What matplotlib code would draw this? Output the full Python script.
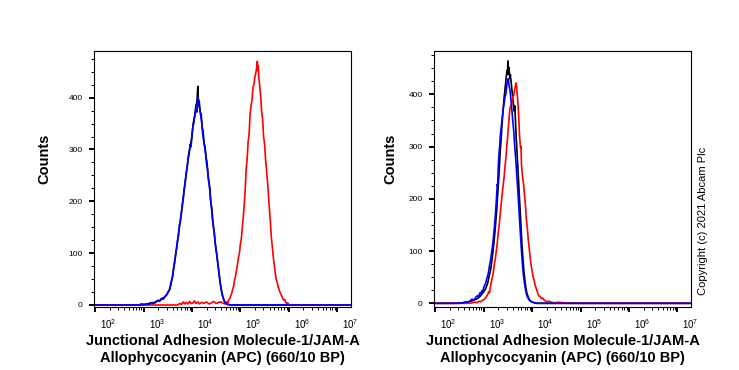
import numpy as np
import matplotlib
matplotlib.use("Agg")
import matplotlib.pyplot as plt
from matplotlib.ticker import FixedLocator, NullFormatter

plt.rcParams['font.family'] = ['Liberation Sans', 'DejaVu Sans']
plt.rcParams['mathtext.fontset'] = 'custom'
plt.rcParams['mathtext.rm'] = 'Liberation Sans'
plt.rcParams['mathtext.it'] = 'Liberation Sans:italic'
plt.rcParams['mathtext.bf'] = 'Liberation Sans:bold'

# ---------------- data: (log10 fluorescence, counts) ----------------
decades = [2, 3, 4, 5, 6, 7]
xtick_labels = [r'$\mathregular{10^{%d}}$' % d for d in decades]
ytick_values = [0, 100, 200, 300, 400]
ytick_labels = ['0', '100', '200', '300', '400']

left_blue = [(2.90, 0), (2.95, 1), (3.00, 0), (3.05, 2), (3.10, 1), (3.15, 3), (3.20, 5), (3.24, 4),
             (3.28, 8), (3.32, 7), (3.36, 12), (3.40, 11), (3.44, 16), (3.48, 20), (3.51, 26),
             (3.54, 31), (3.56, 42), (3.58, 47), (3.60, 58), (3.62, 72), (3.64, 80), (3.66, 98),
             (3.68, 108), (3.70, 125), (3.72, 133), (3.74, 155), (3.76, 160), (3.78, 180),
             (3.80, 190), (3.82, 210), (3.84, 222), (3.86, 240), (3.88, 252), (3.90, 268),
             (3.92, 282), (3.94, 290), (3.96, 310), (3.98, 305), (4.00, 330), (4.02, 345),
             (4.04, 352), (4.06, 370), (4.08, 378), (4.10, 372), (4.12, 400), (4.14, 385),
             (4.16, 378), (4.18, 365), (4.20, 352), (4.22, 330), (4.24, 318), (4.26, 305),
             (4.28, 292), (4.30, 272), (4.32, 262), (4.34, 240), (4.36, 230), (4.38, 205),
             (4.40, 190), (4.42, 168), (4.44, 150), (4.46, 140), (4.48, 118), (4.50, 105),
             (4.52, 92), (4.54, 75), (4.56, 60), (4.58, 44), (4.60, 32), (4.62, 22), (4.64, 15),
             (4.66, 9), (4.68, 5), (4.70, 3), (4.74, 1), (4.80, 0)]

left_black = [(2.90, 0), (2.96, 2), (3.02, 1), (3.08, 2), (3.14, 4), (3.20, 3), (3.26, 7), (3.30, 9),
              (3.34, 8), (3.38, 13), (3.42, 14), (3.46, 18), (3.50, 24), (3.53, 28), (3.56, 38),
              (3.58, 48), (3.60, 55), (3.62, 70), (3.64, 84), (3.66, 95), (3.68, 110), (3.70, 122),
              (3.72, 138), (3.74, 150), (3.76, 165), (3.78, 176), (3.80, 195), (3.82, 205),
              (3.84, 225), (3.86, 236), (3.88, 255), (3.90, 265), (3.92, 285), (3.94, 295),
              (3.96, 305), (3.98, 315), (4.00, 325), (4.02, 348), (4.04, 358), (4.06, 365),
              (4.08, 385), (4.10, 390), (4.11, 405), (4.12, 422), (4.13, 398), (4.15, 392),
              (4.17, 372), (4.19, 368), (4.21, 342), (4.23, 335), (4.25, 312), (4.27, 305),
              (4.29, 285), (4.31, 275), (4.33, 252), (4.35, 238), (4.37, 222), (4.39, 198),
              (4.41, 185), (4.43, 162), (4.45, 148), (4.47, 128), (4.49, 112), (4.51, 98),
              (4.53, 82), (4.55, 68), (4.57, 52), (4.59, 38), (4.61, 28), (4.63, 18), (4.65, 12),
              (4.67, 7), (4.70, 3), (4.74, 1), (4.80, 0)]

left_red = [(3.70, 0), (3.75, 3), (3.78, 1), (3.82, 6), (3.85, 2), (3.88, 5), (3.92, 2), (3.95, 7),
            (3.98, 3), (4.02, 4), (4.05, 8), (4.08, 3), (4.12, 6), (4.15, 2), (4.20, 5), (4.25, 3),
            (4.30, 6), (4.35, 2), (4.40, 4), (4.45, 7), (4.50, 3), (4.55, 5), (4.60, 6), (4.65, 3),
            (4.68, 2), (4.72, 6), (4.74, 4), (4.76, 10), (4.78, 12), (4.80, 18), (4.82, 22),
            (4.84, 30), (4.86, 36), (4.88, 48), (4.90, 56), (4.92, 68), (4.94, 78), (4.96, 92),
            (4.98, 100), (5.00, 118), (5.02, 128), (5.04, 150), (5.06, 170), (5.08, 195),
            (5.10, 225), (5.12, 262), (5.14, 282), (5.16, 315), (5.18, 330), (5.20, 368),
            (5.22, 385), (5.24, 395), (5.26, 420), (5.28, 425), (5.30, 440), (5.32, 448),
            (5.34, 460), (5.35, 470), (5.36, 452), (5.37, 462), (5.38, 440), (5.40, 422),
            (5.42, 402), (5.44, 372), (5.46, 358), (5.48, 325), (5.50, 310), (5.52, 280),
            (5.54, 262), (5.56, 238), (5.58, 212), (5.60, 185), (5.62, 160), (5.64, 130),
            (5.66, 112), (5.68, 92), (5.70, 78), (5.72, 62), (5.74, 50), (5.76, 44), (5.78, 35),
            (5.80, 30), (5.82, 24), (5.84, 20), (5.86, 16), (5.88, 12), (5.90, 9), (5.92, 10),
            (5.94, 5), (5.96, 3), (5.98, 4), (6.00, 1), (6.03, 0)]

right_blue = [(2.45, 0), (2.50, 1), (2.55, 0), (2.60, 2), (2.64, 3), (2.68, 2), (2.72, 5), (2.76, 8),
              (2.80, 6), (2.84, 12), (2.88, 15), (2.90, 12), (2.92, 20), (2.94, 18), (2.96, 24),
              (2.98, 22), (3.00, 30), (3.02, 35), (3.04, 38), (3.06, 46), (3.08, 52), (3.10, 60),
              (3.12, 72), (3.14, 82), (3.16, 95), (3.18, 108), (3.20, 125), (3.22, 145),
              (3.24, 168), (3.26, 195), (3.28, 228), (3.29, 225), (3.30, 262), (3.32, 292),
              (3.33, 300), (3.34, 318), (3.36, 335), (3.38, 352), (3.40, 370), (3.42, 382),
              (3.44, 395), (3.46, 402), (3.48, 420), (3.50, 426), (3.51, 430), (3.52, 418),
              (3.54, 410), (3.56, 392), (3.58, 372), (3.60, 350), (3.62, 330), (3.64, 300),
              (3.66, 278), (3.68, 250), (3.70, 222), (3.72, 192), (3.74, 160), (3.76, 130),
              (3.78, 100), (3.80, 75), (3.82, 54), (3.84, 40), (3.86, 28), (3.88, 19), (3.90, 13),
              (3.92, 9), (3.95, 5), (3.98, 3), (4.02, 2), (4.06, 1), (4.10, 0)]

right_black = [(2.50, 0), (2.56, 1), (2.62, 2), (2.68, 3), (2.74, 4), (2.80, 6), (2.85, 8), (2.90, 11),
               (2.95, 16), (3.00, 22), (3.04, 28), (3.08, 38), (3.12, 55), (3.15, 68), (3.18, 90),
               (3.21, 115), (3.24, 145), (3.27, 180), (3.30, 225), (3.32, 255), (3.34, 290),
               (3.36, 315), (3.38, 345), (3.40, 370), (3.42, 392), (3.44, 410), (3.46, 428),
               (3.48, 445), (3.49, 440), (3.50, 464), (3.51, 438), (3.52, 452), (3.54, 430),
               (3.55, 438), (3.57, 420), (3.59, 402), (3.61, 385), (3.63, 368), (3.64, 378),
               (3.65, 362), (3.67, 318), (3.69, 285), (3.71, 252), (3.73, 215), (3.75, 182),
               (3.77, 148), (3.79, 112), (3.81, 85), (3.83, 62), (3.85, 44), (3.87, 30), (3.89, 20),
               (3.92, 12), (3.95, 6), (3.99, 3), (4.04, 1), (4.10, 0)]

right_red = [(2.70, 0), (2.76, 1), (2.82, 2), (2.86, 1), (2.90, 4), (2.94, 3), (2.98, 6), (3.02, 8),
             (3.05, 12), (3.08, 16), (3.10, 22), (3.12, 20), (3.14, 32), (3.16, 42), (3.18, 50),
             (3.20, 61), (3.22, 75), (3.24, 85), (3.26, 100), (3.28, 115), (3.30, 135), (3.32, 150),
             (3.34, 170), (3.36, 190), (3.38, 208), (3.40, 225), (3.42, 240), (3.44, 262),
             (3.46, 280), (3.48, 304), (3.50, 325), (3.52, 350), (3.53, 362), (3.54, 372),
             (3.56, 378), (3.58, 382), (3.60, 395), (3.62, 398), (3.64, 410), (3.66, 418),
             (3.67, 422), (3.68, 415), (3.70, 392), (3.72, 362), (3.73, 345), (3.74, 320),
             (3.75, 310), (3.76, 298), (3.77, 300), (3.78, 265), (3.80, 245), (3.82, 230),
             (3.84, 210), (3.86, 190), (3.88, 162), (3.90, 145), (3.92, 122), (3.94, 105),
             (3.96, 88), (3.98, 72), (4.00, 62), (4.02, 50), (4.04, 45), (4.06, 35), (4.08, 30),
             (4.10, 24), (4.12, 18), (4.14, 14), (4.165, 13), (4.19, 9), (4.22, 10), (4.25, 6),
             (4.28, 4), (4.30, 3), (4.35, 4), (4.40, 2), (4.47, 1), (4.55, 2), (4.65, 1), (4.80, 0)]

panels = [
    dict(rect=[94.3, 51.0, 350.7, 306.7], ylim=(-3.3, 490),
         curves=[(left_black, '#000000'), (left_red, '#ff0000'), (left_blue, '#0000ff')],
         counts_x=44),
    dict(rect=[434.3, 51.0, 691.0, 306.7], ylim=(-6.5, 483),
         curves=[(right_black, '#000000'), (right_red, '#ff0000'), (right_blue, '#0000ff')],
         counts_x=390),
]

W, H = 739, 370
XMIN, XMAX = 1.98, 7.28
fig = plt.figure(figsize=(W / 100, H / 100), dpi=100)

for p in panels:
    x0, y0, x1, y1 = p['rect']
    ax = fig.add_axes([x0 / W, 1 - y1 / H, (x1 - x0) / W, (y1 - y0) / H])
    for pts, c in p['curves']:
        xs, ys = zip(*pts)
        xx = np.concatenate([[XMIN], xs, [XMAX]])
        yy = np.concatenate([[0], ys, [0]])
        ax.plot(10 ** xx, yy, color=c, lw=1.2)
    ax.set_xscale('log')
    ax.set_xlim(10 ** XMIN, 10 ** XMAX)
    ax.set_ylim(*p['ylim'])
    ax.xaxis.set_major_locator(FixedLocator([10.0 ** d for d in decades]))
    minors = [m * 10.0 ** d for d in decades[:-1] for m in range(2, 10)]
    ax.xaxis.set_minor_locator(FixedLocator(minors))
    ax.xaxis.set_major_formatter(NullFormatter())
    ax.xaxis.set_minor_formatter(NullFormatter())
    ax.yaxis.set_major_locator(FixedLocator(ytick_values))
    ax.set_yticklabels(ytick_labels)
    ax.yaxis.set_minor_locator(FixedLocator(list(range(25, 480, 25))))
    ax.tick_params(which='major', direction='out', length=3.8, width=1.4, labelsize=6, pad=4.5)
    ax.tick_params(which='minor', direction='out', length=2.0, width=0.7)
    for s in ax.spines.values():
        s.set_linewidth(0.8)
    for d, lab in zip(decades, xtick_labels):
        ax.annotate(lab, xy=(10.0 ** d, 0), xycoords=('data', 'axes fraction'),
                    xytext=(3.6, -15.8), textcoords='offset points',
                    ha='left', va='baseline', fontsize=7)
    cx = (x0 + x1) / 2
    fig.text(cx / W, 1 - 341 / H, 'Junctional Adhesion Molecule-1/JAM-A',
             ha='center', va='center', fontsize=10.5, fontweight='bold')
    fig.text(cx / W, 1 - 358 / H, 'Allophycocyanin (APC) (660/10 BP)',
             ha='center', va='center', fontsize=10.5, fontweight='bold')
    fig.text(p['counts_x'] / W, 1 - 159 / H, 'Counts', rotation=90,
             ha='center', va='center', fontsize=10.5, fontweight='bold')

fig.text(703 / W, 1 - 221 / H, 'Copyright (c) 2021 Abcam Plc', rotation=90,
         ha='center', va='center', fontsize=8)

fig.savefig('out.png', dpi=100)
